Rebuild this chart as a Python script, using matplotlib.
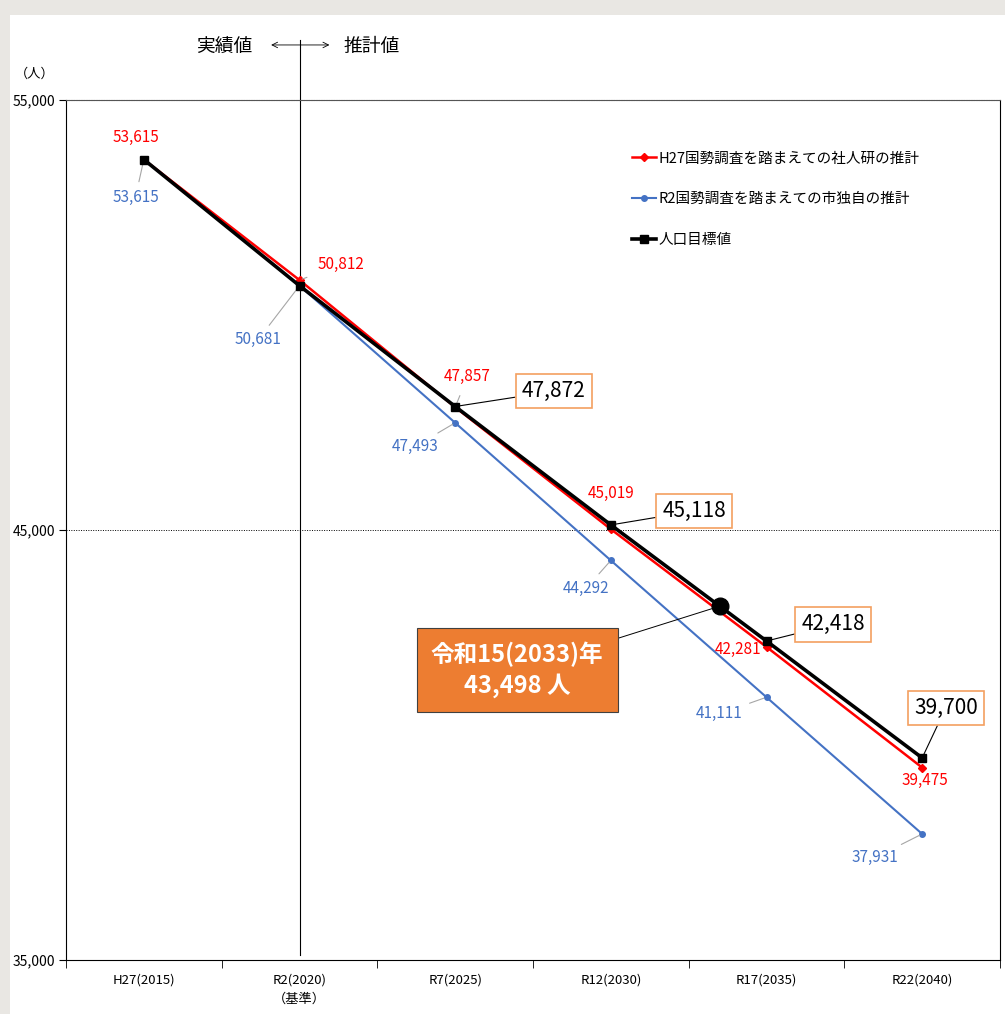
import numpy as np
import matplotlib.pyplot as plt
from matplotlib.patches import Rectangle

plt.rcParams['font.family'] = ['Noto Sans CJK JP', 'DejaVu Sans']

# data
categories = ['H27(2015)', 'R2(2020)\n（基準）', 'R7(2025)', 'R12(2030)', 'R17(2035)', 'R22(2040)']
ipss = [53615, 50812, 47857, 45019, 42281, 39475]      # H27国勢調査を踏まえての社人研の推計
city = [53615, 50681, 47493, 44292, 41111, 37931]      # R2国勢調査を踏まえての市独自の推計
target = [53615, 50681, 47872, 45118, 42418, 39700]    # 人口目標値
highlight_label = '令和15(2033)年\n43,498 人'

RED = '#FF0000'
BLUE = '#4472C4'
ORANGE = '#ED7D31'
BOXEDGE = '#F4A060'

fig = plt.figure(figsize=(10.05, 10.14), dpi=100)
fig.patch.set_facecolor('#E9E7E3')
fig.patches.append(Rectangle((10 / 1005, 0), 1, (1014 - 15) / 1014, transform=fig.transFigure,
                             facecolor='white', edgecolor='none', zorder=-10))
ax = fig.add_axes([66 / 1005, 54 / 1014, 934 / 1005, 860 / 1014])
ax.set_facecolor('white')

x = np.arange(len(categories))
ax.plot(x, ipss, color=RED, lw=1.8, marker='D', ms=4, label='H27国勢調査を踏まえての社人研の推計', zorder=3)
ax.plot(x, city, color=BLUE, lw=1.5, marker='o', ms=4, label='R2国勢調査を踏まえての市独自の推計', zorder=3)
ax.plot(x, target, color='black', lw=2.6, marker='s', ms=6, label='人口目標値', zorder=4)

ax.set_xlim(-0.5, len(categories) - 0.5)
ax.set_ylim(35000, 55000)
ax.set_yticks([35000, 45000, 55000])
ax.set_yticklabels(['{:,}'.format(v) for v in [35000, 45000, 55000]], fontsize=10)
ax.set_xticks(x)
ax.set_xticklabels(categories, fontsize=9.5, linespacing=1.6)
ax.set_xticks(np.arange(-0.5, len(categories)), minor=True)
ax.tick_params(axis='x', which='major', length=0, pad=10)
ax.tick_params(axis='x', which='minor', length=6, direction='out')
ax.tick_params(axis='y', length=5, direction='out', pad=3)

ax.axhline(45000, color='black', lw=0.7, ls=(0, (1, 1.5)), zorder=1)
ax.spines['top'].set_linestyle((0, (1, 0.5)))
ax.spines['top'].set_color('#555555')
ax.spines['right'].set_linewidth(0.8)

# boundary between actual and estimate
ax.axvline(1, ymin=0.006, ymax=1.07, color='black', lw=0.8, clip_on=False, zorder=2)
ax.text(0.70, 1.062, '実績値', transform=ax.get_xaxis_transform(), ha='right', va='center', fontsize=13.5)
ax.text(1.28, 1.062, '推計値', transform=ax.get_xaxis_transform(), ha='left', va='center', fontsize=13.5)
ax.annotate('', xy=(0.80, 1.064), xytext=(1.21, 1.064), xycoords=ax.get_xaxis_transform(),
            arrowprops=dict(arrowstyle='<->', lw=0.6, color='black'))
ax.text(-0.033, 1.03, '（人）', transform=ax.transAxes, ha='center', va='center', fontsize=9.5)

# red labels
red_off = [(-6, 16, 'center', None), (13, 11, 'left', True), (9, 22, 'center', True),
           (0, 26, 'center', None), (-4, -2, 'right', None), (2, -9, 'center', None)]
for i, (dx, dy, ha, lead) in enumerate(red_off):
    ax.annotate('{:,}'.format(ipss[i]), (x[i], ipss[i]), xytext=(dx, dy), textcoords='offset points',
                ha=ha, va='center', color=RED, fontsize=11,
                arrowprops=dict(arrowstyle='-', color='#A6A6A6', lw=0.8, shrinkA=6, shrinkB=2) if lead else None)

# blue labels
blue_off = [(-6, -27, 'center'), (-13, -39, 'right'), (-12, -17, 'right'),
            (-1, -20, 'right'), (-17, -12, 'right'), (-17, -17, 'right')]
for i, (dx, dy, ha) in enumerate(blue_off):
    ax.annotate('{:,}'.format(city[i]), (x[i], city[i]), xytext=(dx, dy), textcoords='offset points',
                ha=ha, va='center', color=BLUE, fontsize=11,
                arrowprops=dict(arrowstyle='-', color='#A6A6A6', lw=0.8, shrinkA=3, shrinkB=2))

# target callouts
tgt_off = [(71, 11), (60, 10), (48, 12), (17, 36)]
for i, (dx, dy) in zip(range(2, 6), tgt_off):
    ax.annotate('{:,}'.format(target[i]), (x[i], target[i]), xytext=(dx, dy), textcoords='offset points',
                ha='center', va='center', fontsize=15, color='black',
                bbox=dict(boxstyle='square,pad=0.3', fc='white', ec=BOXEDGE, lw=1.2),
                arrowprops=dict(arrowstyle='-', color='black', lw=0.8, shrinkA=0, shrinkB=2))

# 2033 highlight point on target line
hx = 3.7
hy = np.interp(hx, x, target)
ax.plot([hx], [hy], 'o', color='black', ms=12, zorder=5)
ax.annotate(highlight_label, (hx, hy), xytext=(-146, -46), textcoords='offset points',
            ha='center', va='center', fontsize=17, fontweight='bold', color='white', linespacing=1.3,
            bbox=dict(boxstyle='square,pad=0.6', fc=ORANGE, ec='#404040', lw=0.8),
            arrowprops=dict(arrowstyle='-', color='black', lw=0.7, shrinkA=0, shrinkB=6), zorder=6)

leg = ax.legend(loc='upper left', bbox_to_anchor=(0.60, 0.947), frameon=False, fontsize=10.5,
                handlelength=1.6, handletextpad=0.2, labelspacing=1.85, borderaxespad=0)

fig.savefig('out.png', dpi=100, facecolor=fig.get_facecolor())
